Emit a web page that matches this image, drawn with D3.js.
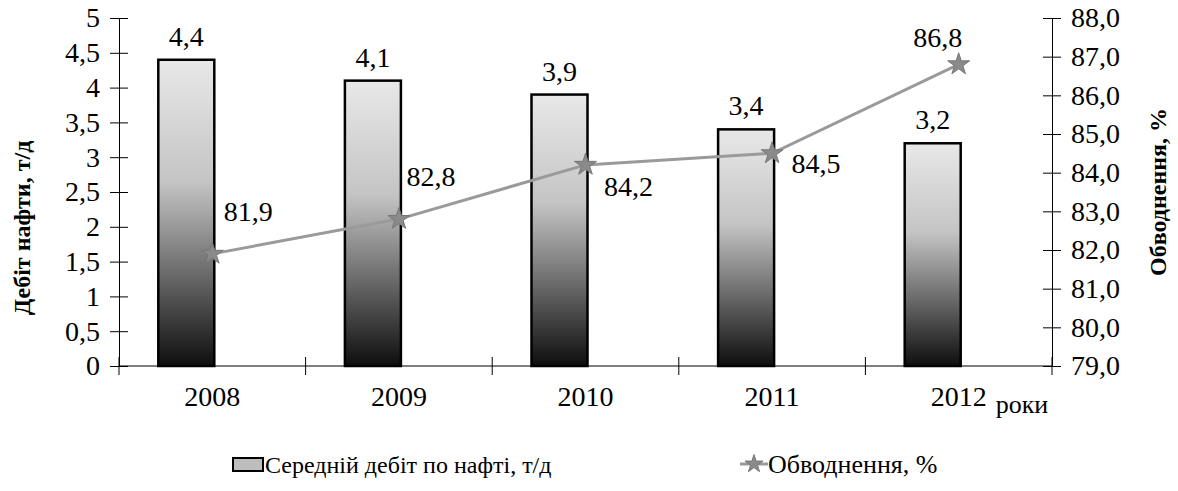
<!DOCTYPE html>
<html>
<head>
<meta charset="utf-8">
<script src="https://cdn.jsdelivr.net/npm/d3@7"></script>
<style>
  body { margin: 0; background: #fff; }
  svg { font-family: "Liberation Serif", "Times New Roman", serif; }
</style>
</head>
<body>
<svg width="1178" height="491"></svg>
<script>
const years = ['2008', '2009', '2010', '2011', '2012'];
const debit = [4.4, 4.1, 3.9, 3.4, 3.2];
const water = [81.9, 82.8, 84.2, 84.5, 86.8];
const leftTicks = [0, 0.5, 1, 1.5, 2, 2.5, 3, 3.5, 4, 4.5, 5];
const rightTicks = [79, 80, 81, 82, 83, 84, 85, 86, 87, 88];

const svg = d3.select('svg');
const margin = { top: 18, left: 119, right: 126, bottom: 125 };
const innerWidth = 1178 - margin.left - margin.right;
const innerHeight = 491 - margin.top - margin.bottom;

const fmt = d => d3.format('.1f')(d).replace('.', ',');
const fmtL = d => String(d).replace('.', ',');
const serif = '"Liberation Serif", "Times New Roman", serif';

const xScale = d3.scaleBand().domain(years).range([0, innerWidth]);
const yLeft = d3.scaleLinear().domain([0, 5]).range([innerHeight, 0]);
const yRight = d3.scaleLinear().domain([79, 88]).range([innerHeight, 0]);

const defs = svg.append('defs');
const grad = defs.append('linearGradient')
  .attr('id', 'barGrad').attr('x1', 0).attr('y1', 0).attr('x2', 0).attr('y2', 1);
grad.append('stop').attr('offset', '0%').attr('stop-color', '#e8e8e8');
grad.append('stop').attr('offset', '40%').attr('stop-color', '#c4c4c4');
grad.append('stop').attr('offset', '70%').attr('stop-color', '#6a6a6a');
grad.append('stop').attr('offset', '100%').attr('stop-color', '#0e0e0e');

const g = svg.append('g')
  .attr('transform', `translate(${margin.left},${margin.top})`);

// bars (drawn left of category centre, as in the source)
const barW = 56;
g.selectAll('rect.bar').data(years).enter().append('rect')
  .attr('class', 'bar')
  .attr('x', (d) => xScale(d) + xScale.bandwidth() / 2 - barW + 2)
  .attr('y', (d, i) => yLeft(debit[i]))
  .attr('width', barW)
  .attr('height', (d, i) => innerHeight - yLeft(debit[i]))
  .attr('fill', 'url(#barGrad)')
  .attr('stroke', '#000')
  .attr('stroke-width', 2.5);

g.selectAll('text.barlab').data(years).enter().append('text')
  .attr('x', (d) => xScale(d) + xScale.bandwidth() / 2 - barW / 2 + 2)
  .attr('y', (d, i) => yLeft(debit[i]) - 14)
  .attr('text-anchor', 'middle')
  .attr('font-size', 28)
  .text((d, i) => fmtL(debit[i]));

// axes
const styleAxis = a => {
  a.attr('font-family', serif).attr('font-size', 28);
  a.selectAll('text').attr('fill', '#000');
  a.selectAll('line, path').attr('stroke', '#000');
};

const leftAxis = d3.axisLeft(yLeft).tickValues(leftTicks).tickFormat(fmtL)
  .tickSizeInner(9).tickSizeOuter(0).tickPadding(10);
const leftG = g.append('g').call(leftAxis).call(styleAxis);
leftG.selectAll('.tick line').attr('x1', 9);

const rightAxis = d3.axisRight(yRight).tickValues(rightTicks).tickFormat(fmt)
  .tickSizeInner(9).tickSizeOuter(0).tickPadding(10);
const rightG = g.append('g').attr('transform', `translate(${innerWidth},0)`)
  .call(rightAxis).call(styleAxis);
rightG.selectAll('.tick line').attr('x1', -9);

const bottomG = g.append('g').attr('transform', `translate(0,${innerHeight})`)
  .call(d3.axisBottom(xScale).tickSize(0).tickPadding(20)).call(styleAxis);
bottomG.select('.domain').remove();
bottomG.append('line').attr('x1', 0).attr('x2', innerWidth).attr('stroke', '#000');
g.append('g').selectAll('line').data(d3.range(years.length + 1)).enter().append('line')
  .attr('x1', i => i * xScale.step()).attr('x2', i => i * xScale.step())
  .attr('y1', innerHeight - 9).attr('y2', innerHeight + 9)
  .attr('stroke', '#000');

// line
const cx = d => xScale(d) + xScale.bandwidth() / 2;
const line = d3.line().x((d, i) => cx(years[i])).y(d => yRight(d));
g.append('path').datum(water)
  .attr('d', line).attr('fill', 'none').attr('stroke', '#9a9a9a').attr('stroke-width', 3);

const star = d3.symbol().type(d3.symbolStar).size(150);
g.selectAll('path.pt').data(water).enter().append('path')
  .attr('transform', (d, i) => `translate(${cx(years[i])},${yRight(d)})`)
  .attr('d', star).attr('fill', '#8a8a8a').attr('stroke', '#777');

// label offsets: [dx of centre, dy of baseline]
const lineLabOff = [[36, -33], [32, -33], [43, 31], [44, 20], [-21, -17]];
g.selectAll('text.linelab').data(water).enter().append('text')
  .attr('x', (d, i) => cx(years[i]) + lineLabOff[i][0])
  .attr('y', (d, i) => yRight(d) + lineLabOff[i][1])
  .attr('text-anchor', 'middle')
  .attr('font-size', 28)
  .text(fmt);

// axis titles
svg.append('text')
  .attr('transform', 'translate(30,228) rotate(-90)')
  .attr('text-anchor', 'middle').attr('font-weight', 'bold').attr('font-size', 24)
  .text('Дебіт нафти, т/д');
svg.append('text')
  .attr('transform', 'translate(1166,192) rotate(-90)')
  .attr('text-anchor', 'middle').attr('font-weight', 'bold').attr('font-size', 24)
  .text('Обводнення, %');
svg.append('text')
  .attr('x', 1022).attr('y', 413).attr('text-anchor', 'middle').attr('font-size', 26)
  .text('роки');

// legend
const lg = svg.append('g').attr('transform', 'translate(0,464)');
lg.append('rect').attr('x', 233).attr('y', -6).attr('width', 30).attr('height', 13)
  .attr('fill', '#bdbdbd').attr('stroke', '#000').attr('stroke-width', 2);
lg.append('text').attr('x', 265).attr('y', 9).attr('font-size', 24)
  .text('Середній дебіт по нафті, т/д');
lg.append('line').attr('x1', 740).attr('x2', 768).attr('stroke', '#9a9a9a').attr('stroke-width', 3);
lg.append('path').attr('transform', 'translate(754,0)').attr('d', d3.symbol().type(d3.symbolStar).size(100))
  .attr('fill', '#8a8a8a').attr('stroke', '#777');
lg.append('text').attr('x', 768).attr('y', 9).attr('font-size', 26)
  .text('Обводнення, %');
</script>
</body>
</html>
